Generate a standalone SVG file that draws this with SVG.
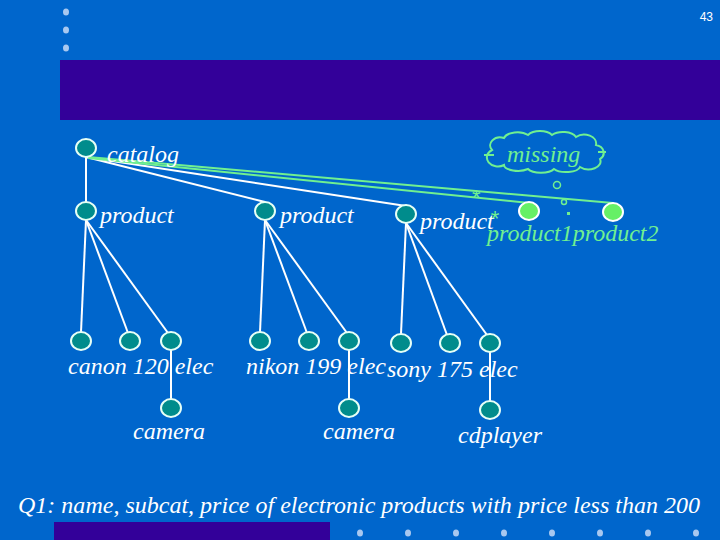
<svg xmlns="http://www.w3.org/2000/svg" width="720" height="540" viewBox="0 0 720 540">
<defs>
<style>
.lbl{font-family:"Liberation Serif",serif;font-style:italic;font-size:24px;fill:#ffffff}
.glbl{font-family:"Liberation Serif",serif;font-style:italic;font-size:24px;fill:#70f090}
.star{font-family:"Liberation Sans",sans-serif;font-style:normal;font-size:22px;fill:#70f090}
.node{fill:#008c8c;stroke:#e6fff6;stroke-width:2}
.gnode{fill:#66f066;stroke:#ffffff;stroke-width:2}
.edge{stroke:#ffffff;stroke-width:2;fill:none}
.gedge{stroke:#70f090;stroke-width:2;fill:none}
.dot{fill:#a8c8f0}
</style>
</defs>
<rect x="0" y="0" width="720" height="540" fill="#0066cc"/>
<rect x="60" y="60" width="660" height="60" fill="#330099"/>
<rect x="54" y="522" width="276" height="18" fill="#330099"/>
<g id="decor">
<ellipse class="dot" cx="66" cy="12" rx="3" ry="3.5"/>
<ellipse class="dot" cx="66" cy="30" rx="3" ry="3.5"/>
<ellipse class="dot" cx="66" cy="48" rx="3" ry="3.5"/>
<ellipse class="dot" cx="360" cy="533" rx="3" ry="3.5"/>
<ellipse class="dot" cx="408" cy="533" rx="3" ry="3.5"/>
<ellipse class="dot" cx="456" cy="533" rx="3" ry="3.5"/>
<ellipse class="dot" cx="504" cy="533" rx="3" ry="3.5"/>
<ellipse class="dot" cx="552" cy="533" rx="3" ry="3.5"/>
<ellipse class="dot" cx="600" cy="533" rx="3" ry="3.5"/>
<ellipse class="dot" cx="648" cy="533" rx="3" ry="3.5"/>
<ellipse class="dot" cx="696" cy="533" rx="3" ry="3.5"/>
<text x="713" y="21" text-anchor="end" font-family="Liberation Sans,sans-serif" font-size="12" fill="#ffffff">43</text>
</g>
<g id="connectors">
<line class="edge" x1="86" y1="157" x2="86" y2="202"/>
<line class="edge" x1="86" y1="157" x2="265" y2="202"/>
<line class="edge" x1="86" y1="157" x2="406" y2="206"/>
<line class="gedge" x1="88" y1="157" x2="613" y2="203"/>
<line class="gedge" x1="88" y1="158" x2="529" y2="203"/>
<text class="star" x="472" y="205">*</text>
<circle cx="564" cy="202" r="2.5" fill="#0066cc" stroke="#70f090" stroke-width="1.5"/>
<circle cx="557" cy="185" r="3.5" fill="#0066cc" stroke="#70f090" stroke-width="1.5"/>
<rect x="567" y="212" width="3" height="3" fill="#70f090"/>
<line class="edge" x1="86" y1="220" x2="81" y2="332"/>
<line class="edge" x1="86" y1="220" x2="128" y2="333"/>
<line class="edge" x1="86" y1="220" x2="168" y2="333"/>
<line class="edge" x1="265" y1="220" x2="260" y2="332"/>
<line class="edge" x1="265" y1="220" x2="307" y2="333"/>
<line class="edge" x1="265" y1="220" x2="347" y2="333"/>
<line class="edge" x1="406" y1="223" x2="401" y2="334"/>
<line class="edge" x1="406" y1="223" x2="447" y2="335"/>
<line class="edge" x1="406" y1="223" x2="487" y2="335"/>
<line class="edge" x1="171" y1="350" x2="171" y2="399"/>
<line class="edge" x1="349" y1="350" x2="349" y2="399"/>
<line class="edge" x1="490" y1="352" x2="490" y2="401"/>
</g>
<g id="missing">
<path d="M492,150 a10,8 0 0 1 12,-12 a14,8 0 0 1 24,-3 a14,8 0 0 1 24,0 a14,8 0 0 1 24,2 a12,9 0 0 1 20,8 a10,8 0 0 1 4,14 a12,8 0 0 1 -20,8 a14,6 0 0 1 -26,2 a14,6 0 0 1 -26,0 a14,6 0 0 1 -24,-4 a10,8 0 0 1 -12,-15 z M484,155 h10 M598,152 h8" fill="none" stroke="#70f090" stroke-width="2"/>
<text class="glbl" x="507" y="162">missing</text>
</g>
<g id="catalog"><ellipse class="node" cx="86" cy="148" rx="10" ry="9"/><text class="lbl" x="107" y="162">catalog</text></g>
<g id="product1"><ellipse class="node" cx="86" cy="211" rx="10" ry="9"/><text class="lbl" x="100" y="223">product</text></g>
<g id="product2"><ellipse class="node" cx="265" cy="211" rx="10" ry="9"/><text class="lbl" x="280" y="223">product</text></g>
<g id="product3"><ellipse class="node" cx="406" cy="214" rx="10" ry="9"/><text class="lbl" x="420" y="229">product<tspan class="star" dx="-3" dy="-3">*</tspan></text></g>
<g id="gproduct1"><ellipse class="gnode" cx="529" cy="211" rx="10" ry="9"/></g>
<g id="gproduct2"><ellipse class="gnode" cx="613" cy="212" rx="10" ry="9"/></g>
<text class="glbl" x="487" y="241">product1product2</text>
<g id="leaf1"><ellipse class="node" cx="81" cy="341" rx="10" ry="9"/></g>
<g id="leaf2"><ellipse class="node" cx="130" cy="341" rx="10" ry="9"/></g>
<g id="leaf3"><ellipse class="node" cx="171" cy="341" rx="10" ry="9"/></g>
<g id="leaf4"><ellipse class="node" cx="260" cy="341" rx="10" ry="9"/></g>
<g id="leaf5"><ellipse class="node" cx="309" cy="341" rx="10" ry="9"/></g>
<g id="leaf6"><ellipse class="node" cx="349" cy="341" rx="10" ry="9"/></g>
<g id="leaf7"><ellipse class="node" cx="401" cy="343" rx="10" ry="9"/></g>
<g id="leaf8"><ellipse class="node" cx="450" cy="343" rx="10" ry="9"/></g>
<g id="leaf9"><ellipse class="node" cx="490" cy="343" rx="10" ry="9"/></g>
<g id="cam1"><ellipse class="node" cx="171" cy="408" rx="10" ry="9"/><text class="lbl" x="133" y="439">camera</text></g>
<g id="cam2"><ellipse class="node" cx="349" cy="408" rx="10" ry="9"/><text class="lbl" x="323" y="439">camera</text></g>
<g id="cd"><ellipse class="node" cx="490" cy="410" rx="10" ry="9"/><text class="lbl" x="458" y="443">cdplayer</text></g>
<text class="lbl" x="68" y="374">canon 120 elec</text>
<text class="lbl" x="246" y="374">nikon 199 elec</text>
<text class="lbl" x="387" y="377">sony 175 elec</text>
<text class="lbl" x="18" y="513" textLength="682" lengthAdjust="spacing">Q1: name, subcat, price of electronic products with price less than 200</text>
</svg>
